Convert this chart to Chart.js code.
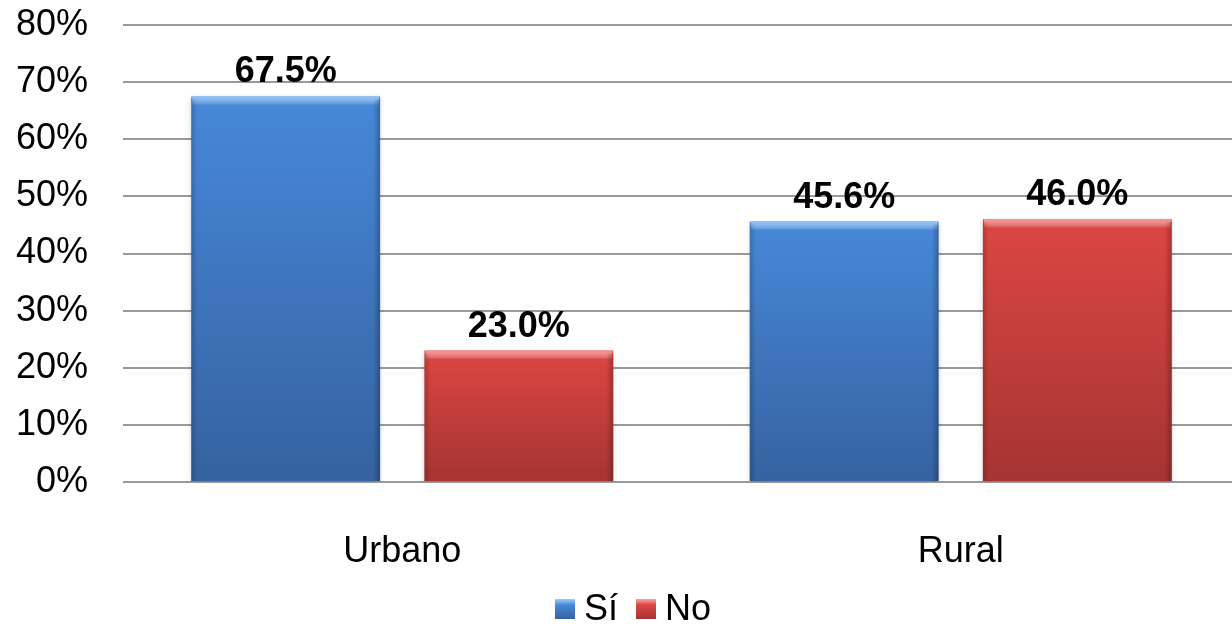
<!DOCTYPE html>
<html>
<head>
<meta charset="utf-8">
<script src="https://cdn.jsdelivr.net/npm/chart.js@4.4.1/dist/chart.umd.min.js"></script>
<style>
  html, body { margin: 0; padding: 0; background: #fff; overflow: hidden; }
  #wrap { width: 1240px; height: 629px; }
</style>
</head>
<body>
<div id="wrap"><canvas id="chart"></canvas></div>
<script>
const zonas = ['Urbano', 'Rural'];
const siValues = [67.5, 45.6];
const noValues = [23.0, 46.0];
const seriesNames = ['Sí', 'No'];

const FONT = "'Liberation Sans', Arial, sans-serif";
const barTop = ['#4788d9', '#dc4643'];
const barBottom = ['#3562a0', '#a53432'];
const highlights = ['rgba(140,200,255,0.9)', 'rgba(255,150,150,0.9)'];

// vertical gradient running from the top of each bar down to the baseline
function barGradient(di) {
  return function (context) {
    const chart = context.chart;
    if (!chart.chartArea) return barTop[di];
    const y = chart.scales.y;
    const y0 = y.getPixelForValue(context.raw);
    const y1 = y.getPixelForValue(0);
    const g = chart.ctx.createLinearGradient(0, y0, 0, y1);
    g.addColorStop(0, barTop[di]);
    g.addColorStop(1, barBottom[di]);
    return g;
  };
}

// bevel look, value labels and the legend underneath
const barDecor = {
  id: 'barDecor',
  beforeDatasetsDraw(chart) {
    const ctx = chart.ctx;
    ctx.save();
    ctx.shadowColor = 'rgba(0,0,0,0.22)';
    ctx.shadowBlur = 5;
    ctx.shadowOffsetX = 0;
    ctx.shadowOffsetY = 2;
  },
  afterDatasetsDraw(chart) {
    const ctx = chart.ctx;
    ctx.restore();
    ctx.save();
    chart.data.datasets.forEach((ds, di) => {
      const meta = chart.getDatasetMeta(di);
      meta.data.forEach((bar, i) => {
        const left = bar.x - bar.width / 2;
        const w = bar.width;
        const h = bar.base - bar.y;
        let g = ctx.createLinearGradient(0, bar.y, 0, bar.y + 9);
        g.addColorStop(0, highlights[di]);
        g.addColorStop(1, 'rgba(255,255,255,0)');
        ctx.fillStyle = g;
        ctx.fillRect(left + 1, bar.y, w - 2, 9);
        g = ctx.createLinearGradient(left, 0, left + 6, 0);
        g.addColorStop(0, 'rgba(0,0,0,0.18)');
        g.addColorStop(1, 'rgba(0,0,0,0)');
        ctx.fillStyle = g;
        ctx.fillRect(left, bar.y + 3, 6, h - 3);
        g = ctx.createLinearGradient(left + w, 0, left + w - 7, 0);
        g.addColorStop(0, 'rgba(0,0,0,0.25)');
        g.addColorStop(1, 'rgba(0,0,0,0)');
        ctx.fillStyle = g;
        ctx.fillRect(left + w - 7, bar.y + 3, 7, h - 3);

        ctx.fillStyle = '#000';
        ctx.font = 'bold 36px ' + FONT;
        ctx.textAlign = 'center';
        ctx.textBaseline = 'alphabetic';
        ctx.fillText(ds.data[i].toFixed(1) + '%', bar.x, bar.y - 14);
      });
    });
    ctx.restore();
  },
  afterDraw(chart) {
    const ctx = chart.ctx;
    const box = 20, gapText = 9, gapItem = 18;
    ctx.save();
    ctx.font = '36px ' + FONT;
    const widths = seriesNames.map(n => ctx.measureText(n).width);
    let total = 0;
    widths.forEach((w, i) => { total += box + gapText + w + (i ? gapItem : 0); });
    let x = (chart.width + 26) / 2 - total / 2;
    const cy = 609;
    seriesNames.forEach((name, i) => {
      const g = ctx.createLinearGradient(0, cy - box / 2, 0, cy + box / 2);
      g.addColorStop(0, highlights[i]);
      g.addColorStop(0.3, barTop[i]);
      g.addColorStop(1, barBottom[i]);
      ctx.fillStyle = g;
      ctx.fillRect(x, cy - box / 2, box, box);
      x += box + gapText;
      ctx.fillStyle = '#000';
      ctx.textAlign = 'left';
      ctx.textBaseline = 'middle';
      ctx.fillText(name, x, cy + 1);
      x += widths[i] + gapItem;
    });
    ctx.restore();
  }
};

new Chart(document.getElementById('chart'), {
  type: 'bar',
  data: {
    labels: zonas,
    datasets: seriesNames.map((name, di) => ({
      label: name,
      data: di === 0 ? siValues : noValues,
      backgroundColor: barGradient(di),
      categoryPercentage: 0.835,
      barPercentage: 0.81
    }))
  },
  options: {
    responsive: true,
    maintainAspectRatio: false,
    animation: false,
    layout: { padding: { left: 0, top: 0, right: 0, bottom: 47 } },
    plugins: {
      tooltip: { enabled: false },
      legend: { display: false }
    },
    scales: {
      x: {
        afterFit(scale) { scale.height = 100; },
        grid: { display: false },
        border: { display: false },
        ticks: { font: { family: FONT, size: 36 }, color: '#000', padding: 40 }
      },
      y: {
        min: 0,
        max: 80,
        afterFit(scale) {
          scale.width = 123;
          scale.paddingTop = 25;
          scale.paddingBottom = 0;
        },
        grid: { color: '#999', lineWidth: 2, drawTicks: false },
        border: { display: false },
        ticks: {
          stepSize: 10,
          font: { family: FONT, size: 36 },
          color: '#000',
          padding: 35,
          callback: v => v + '%'
        }
      }
    }
  },
  plugins: [barDecor]
});
</script>
</body>
</html>
